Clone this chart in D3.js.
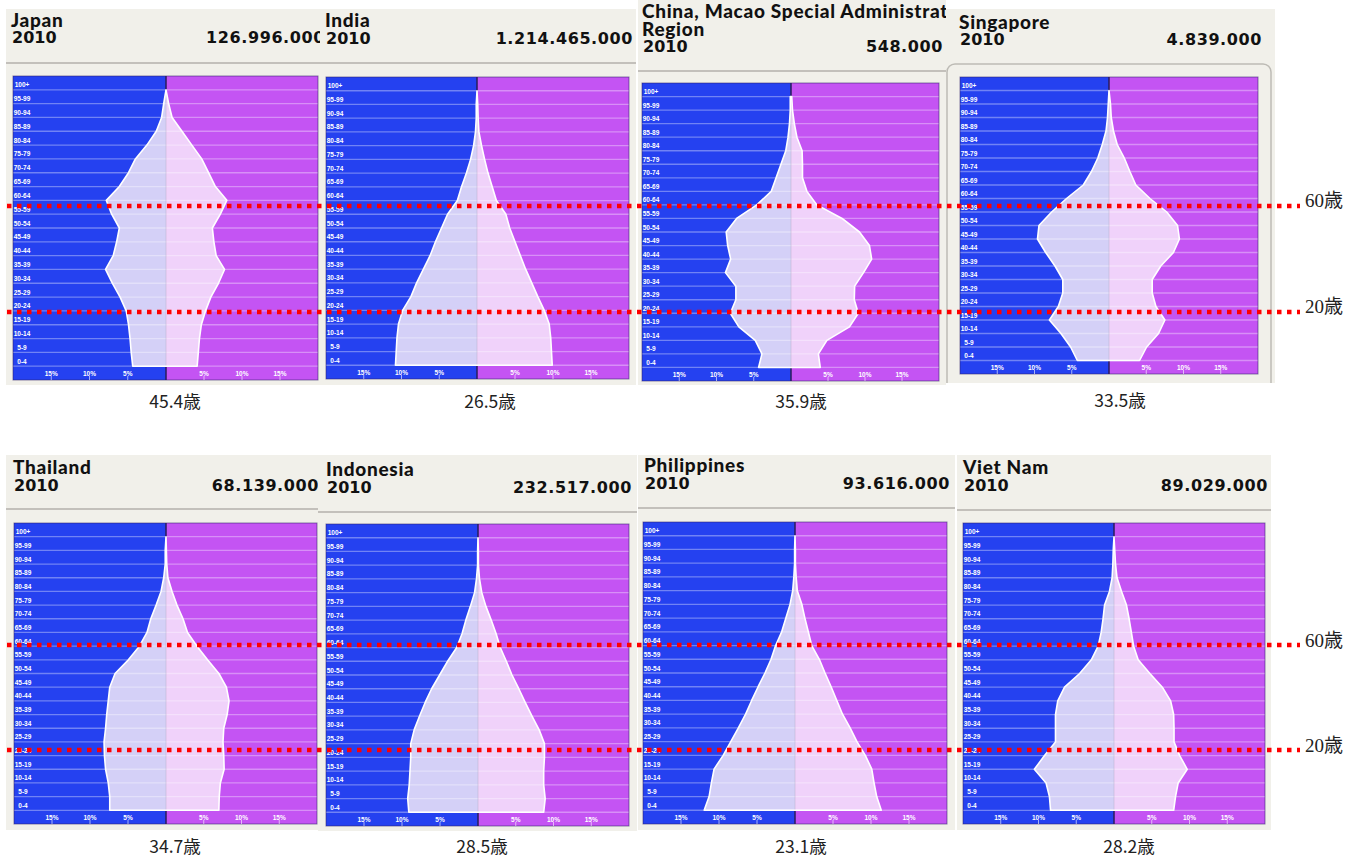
<!DOCTYPE html>
<meta charset="utf-8">
<style>
    body { margin: 0; background: #ffffff; }
    text { font-family: "Liberation Sans", Arial, sans-serif; }
    .name { font-family: Lato, "Open Sans", sans-serif; font-weight: 900; fill: #111; font-size: 19px; letter-spacing: 0.7px; }
    .year, .pop { font-family: "DejaVu Sans", sans-serif; font-weight: bold; fill: #111; font-size: 16px; }
    .pop { letter-spacing: 0.6px; }
    .age, .tick { font-size: 6.5px; font-weight: bold; fill: #fff; }
    .median { font-family: "Noto Sans CJK JP", sans-serif; font-size: 17.5px; fill: #222; }
    .ref { font-family: "Liberation Serif", "Noto Sans CJK JP", serif; font-size: 19px; fill: #222; }
</style>
<body>
<script src="https://cdnjs.cloudflare.com/ajax/libs/d3/7.8.5/d3.min.js"></script>
<script>

    // ---- data ----
    const countries = ["Japan", "India", "China, Macao Special Administrative\nRegion", "Singapore",
        "Thailand", "Indonesia", "Philippines", "Viet Nam"];
    const years = ["2010", "2010", "2010", "2010", "2010", "2010", "2010", "2010"];
    const populations = ["126.996.000", "1.214.465.000", "548.000", "4.839.000",
        "68.139.000", "232.517.000", "93.616.000", "89.029.000"];
    const medianAges = ["45.4歳", "26.5歳", "35.9歳", "33.5歳", "34.7歳", "28.5歳", "23.1歳", "28.2歳"];
    const ageGroups = ["100+", "95-99", "90-94", "85-89", "80-84", "75-79", "70-74", "65-69", "60-64", "55-59",
        "50-54", "45-49", "40-44", "35-39", "30-34", "25-29", "20-24", "15-19", "10-14", "5-9", "0-4"];
    const tickValues = [5, 10, 15];
    const refLabels = ["60歳", "20歳"];

    // % of each sex, from 100+ down to 0-4
    const japanMale = [0, 0.3, 0.57, 1.27, 2.5, 4.0, 4.9, 6.1, 7.8, 7.1, 6.1, 6.45, 6.9, 7.9, 7.0, 6.0, 5.2, 4.9, 4.7, 4.55, 4.35];
    const japanFemale = [0, 0.35, 0.8, 2.1, 3.4, 4.7, 5.6, 6.5, 8.0, 7.15, 6.1, 6.3, 6.6, 7.7, 6.9, 5.9, 5.2, 4.65, 4.4, 4.25, 4.1];
    const indiaMale = [0, 0.1, 0.1, 0.2, 0.45, 0.85, 1.4, 2.05, 2.6, 3.9, 4.7, 5.5, 6.2, 7.1, 8.0, 8.75, 9.85, 10.4, 10.6, 10.7, 10.8];
    const indiaFemale = [0, 0.1, 0.15, 0.25, 0.6, 1.0, 1.45, 2.0, 2.55, 3.8, 4.3, 5.0, 5.7, 6.4, 7.2, 8.0, 8.85, 9.5, 9.7, 9.8, 9.9];
    const macaoMale = [0.1, 0.1, 0.2, 0.4, 0.7, 1.35, 2.0, 2.65, 4.6, 7.3, 8.7, 8.5, 8.1, 8.8, 7.4, 7.4, 8.15, 7.0, 4.8, 3.9, 4.35];
    const macaoFemale = [0.1, 0.2, 0.45, 0.8, 1.5, 1.55, 1.55, 2.15, 3.5, 6.9, 9.25, 10.6, 10.9, 9.8, 8.6, 8.55, 9.1, 7.9, 4.85, 3.7, 3.95];
    const singaporeMale = [0, 0.1, 0.2, 0.4, 0.9, 1.5, 2.35, 3.45, 5.7, 7.7, 9.4, 9.6, 8.5, 7.25, 6.2, 6.2, 6.8, 8.0, 6.45, 5.15, 4.25];
    const singaporeFemale = [0, 0.2, 0.3, 0.6, 1.1, 2.05, 2.8, 3.6, 5.5, 7.75, 9.2, 9.45, 8.65, 6.95, 5.8, 5.8, 6.3, 7.5, 6.65, 5.05, 4.1];
    const thailandMale = [0, 0.1, 0.1, 0.3, 0.65, 1.3, 2.0, 2.5, 3.5, 4.95, 6.7, 7.4, 7.6, 7.8, 7.95, 8.15, 8.1, 7.95, 7.6, 7.4, 7.4];
    const thailandFemale = [0, 0.05, 0.1, 0.25, 0.8, 1.45, 2.25, 2.85, 4.1, 5.5, 7.0, 8.0, 8.35, 8.1, 7.65, 7.55, 7.65, 7.7, 7.2, 7.05, 7.0];
    const indonesiaMale = [0, 0.05, 0.05, 0.2, 0.45, 1.0, 1.6, 2.1, 2.8, 4.0, 5.05, 6.1, 6.95, 7.7, 8.4, 8.85, 8.85, 8.95, 9.05, 9.25, 9.1];
    const indonesiaFemale = [0, 0.05, 0.05, 0.2, 0.5, 1.05, 1.75, 2.4, 2.95, 3.75, 4.5, 5.4, 6.25, 7.15, 8.1, 8.8, 8.8, 8.7, 8.7, 8.9, 8.7];
    const philippinesMale = [0, 0.05, 0.05, 0.15, 0.3, 0.65, 1.2, 1.75, 2.55, 3.15, 3.95, 4.85, 5.7, 6.5, 7.45, 8.45, 9.45, 10.65, 11.0, 11.3, 11.95];
    const philippinesFemale = [0, 0.05, 0.05, 0.15, 0.3, 0.9, 1.3, 1.75, 2.2, 3.2, 3.95, 4.75, 5.5, 6.25, 7.25, 8.15, 9.25, 10.1, 10.4, 10.75, 11.35];
    const vietnamMale = [0, 0.1, 0.15, 0.25, 0.6, 1.25, 1.45, 1.7, 2.1, 3.0, 4.55, 6.55, 7.45, 7.75, 7.75, 7.75, 9.2, 10.55, 9.0, 8.55, 8.4];
    const vietnamFemale = [0, 0.1, 0.2, 0.4, 1.0, 1.65, 2.0, 2.3, 2.6, 3.2, 4.75, 6.4, 7.5, 7.9, 7.95, 7.95, 8.7, 9.7, 8.5, 8.15, 7.9];

    const males = [japanMale, indiaMale, macaoMale, singaporeMale, thailandMale, indonesiaMale, philippinesMale, vietnamMale];
    const females = [japanFemale, indiaFemale, macaoFemale, singaporeFemale, thailandFemale, indonesiaFemale, philippinesFemale, vietnamFemale];

    // ---- layout of the pasted screenshots ----
    const layout = [
        {bg: [6, 9, 320, 385], nameX: 11, nameY: 27, yearY: 43, popX: 325, sepY: 63, plot: [13, 76, 318, 380], cx: 166, med: [175, 408]},
        {bg: [320, 9, 636, 385], nameX: 325, nameY: 27, yearY: 44, popX: 633, sepY: 63, plot: [326, 77, 629, 379], cx: 477, med: [490, 408]},
        {bg: [638, 0, 946, 385], nameX: 642, nameY: 17.5, yearY: 52, popX: 943, sepY: 71, plot: [642, 83, 939, 381], cx: 791, med: [801, 408]},
        {bg: [946, 9, 1275, 383], nameX: 959, nameY: 29, yearY: 45, popX: 1262, box: [947, 64, 1271, 410], plot: [960, 77, 1258, 374], cx: 1109, med: [1120, 407]},
        {bg: [6, 455, 320, 830], nameX: 13, nameY: 474, yearY: 491, popX: 319, sepY: 509, plot: [14, 523, 317, 824], cx: 166, med: [175, 853]},
        {bg: [318, 455, 637, 831], nameX: 326, nameY: 476, yearY: 493, popX: 632, sepY: 512, plot: [326, 524, 629, 826], cx: 478, med: [482, 853]},
        {bg: [638, 455, 955, 830], nameX: 644, nameY: 472, yearY: 489, popX: 950, sepY: 508, plot: [643, 522, 947, 824], cx: 795, med: [801, 853]},
        {bg: [957, 455, 1271, 830], nameX: 963, nameY: 474, yearY: 491, popX: 1268, sepY: 510, plot: [963, 523, 1265, 824], cx: 1114, med: [1129, 853]}
    ];
    const refRows = [{lines: [206, 312], labels: [207, 313]}, {lines: [645, 750], labels: [647, 752]}];

    const width = 1359, height = 868;
    const blue = "#2541f0", purple = "#c454f3";

    let svg = d3.select("body").append("svg")
        .attr("width", width)
        .attr("height", height);

    let defs = svg.append("defs");
    let line = d3.line().x(d => d[0]).y(d => d[1]);
    let n = ageGroups.length;

    layout.forEach(function (L, k) {
        let [bx0, by0, bx1, by1] = L.bg;
        let [px0, py0, px1, py1] = L.plot;
        let cx = L.cx;

        defs.append("clipPath").attr("id", "clip" + k)
            .append("rect").attr("x", bx0).attr("y", by0).attr("width", bx1 - bx0).attr("height", by1 - by0);

        let g = svg.append("g").attr("clip-path", "url(#clip" + k + ")");

        g.append("rect")
            .attr("x", bx0).attr("y", by0)
            .attr("width", bx1 - bx0).attr("height", by1 - by0)
            .attr("fill", "#f1f0ea");

        // header
        countries[k].split("\n").forEach(function (t, j) {
            g.append("text").attr("class", "name")
                .attr("x", L.nameX).attr("y", L.nameY + j * 18.5)
                .text(t);
        });
        g.append("text").attr("class", "year")
            .attr("x", L.nameX + 1).attr("y", L.yearY)
            .text(years[k]);
        g.append("text").attr("class", "pop")
            .attr("x", L.popX).attr("y", L.yearY)
            .attr("text-anchor", "end")
            .text(populations[k]);

        if (L.box) {
            g.append("rect")
                .attr("x", L.box[0]).attr("y", L.box[1])
                .attr("width", L.box[2] - L.box[0]).attr("height", L.box[3] - L.box[1])
                .attr("rx", 8)
                .attr("fill", "none")
                .attr("stroke", "#bdbbb5")
                .attr("stroke-width", 1.5);
        } else {
            g.append("line")
                .attr("x1", bx0).attr("x2", bx1)
                .attr("y1", L.sepY).attr("y2", L.sepY)
                .attr("stroke", "#b3b1ab").attr("stroke-width", 1.5);
        }

        // scales
        let xL = d3.scaleLinear().domain([0, 20]).range([cx, px0]);
        let xR = d3.scaleLinear().domain([0, 20]).range([cx, px1]);
        let y = d3.scaleLinear().domain([0, n + 1]).range([py0, py1]);

        g.append("rect").attr("x", px0).attr("y", py0).attr("width", cx - px0).attr("height", py1 - py0).attr("fill", blue);
        g.append("rect").attr("x", cx).attr("y", py0).attr("width", px1 - cx).attr("height", py1 - py0).attr("fill", purple);

        let malePts = males[k].map((v, i) => [xL(v), y(i + 1)]);
        let femalePts = females[k].map((v, i) => [xR(v), y(i + 1)]);

        g.append("path").attr("d", line([[cx, y(1)]].concat(malePts, [[cx, y(n)]])) + "Z").attr("fill", "#d4d0f7");
        g.append("path").attr("d", line([[cx, y(1)]].concat(femalePts, [[cx, y(n)]])) + "Z").attr("fill", "#f0d2fa");

        // row separators
        g.selectAll(null).data(d3.range(1, n + 1)).enter().append("line")
            .attr("x1", px0).attr("x2", px1)
            .attr("y1", d => y(d)).attr("y2", d => y(d))
            .attr("stroke", "#ffffff").attr("stroke-opacity", 0.35).attr("stroke-width", 1.3);

        // center line
        g.append("line").attr("x1", cx).attr("x2", cx).attr("y1", py0).attr("y2", y(1))
            .attr("stroke", "#2a1d5c").attr("stroke-width", 1.5);
        g.append("line").attr("x1", cx).attr("x2", cx).attr("y1", y(n)).attr("y2", py1)
            .attr("stroke", "#2a1d5c").attr("stroke-width", 1.5);
        g.append("line").attr("x1", cx).attr("x2", cx).attr("y1", y(1)).attr("y2", y(n))
            .attr("stroke", "#b9b0cc").attr("stroke-opacity", 0.5).attr("stroke-width", 1);

        // pyramid outline
        let outline = [[cx, y(n)]]
            .concat(malePts.slice().reverse(), [[cx, y(1)]], femalePts, [[cx, y(n)]]);
        g.append("path").attr("d", line(outline))
            .attr("fill", "none").attr("stroke", "#ffffff").attr("stroke-width", 1.6)
            .attr("stroke-linejoin", "round");

        // border
        g.append("rect").attr("x", px0).attr("y", py0).attr("width", px1 - px0).attr("height", py1 - py0)
            .attr("fill", "none").attr("stroke", "#2b1f66").attr("stroke-opacity", 0.55).attr("stroke-width", 1);

        // age labels
        g.selectAll(null).data(ageGroups).enter().append("text")
            .attr("class", "age")
            .attr("x", px0 + 9)
            .attr("y", (d, i) => y(i + 1) - 2.5)
            .attr("text-anchor", "middle")
            .text(d => d);

        // x axis ticks, both sides
        [xL, xR].forEach(function (sc) {
            g.selectAll(null).data(tickValues).enter().append("text")
                .attr("class", "tick")
                .attr("x", d => sc(d))
                .attr("y", py1 - 4.5)
                .attr("text-anchor", "middle")
                .text(d => d + "%");
            g.selectAll(null).data(tickValues).enter().append("line")
                .attr("x1", d => sc(d)).attr("x2", d => sc(d))
                .attr("y1", py1 - 4).attr("y2", py1)
                .attr("stroke", "#ffffff").attr("stroke-opacity", 0.6).attr("stroke-width", 1);
        });

        svg.append("text").attr("class", "median")
            .attr("x", L.med[0]).attr("y", L.med[1])
            .attr("text-anchor", "middle")
            .text(medianAges[k]);
    });

    // red dotted reference lines
    refRows.forEach(function (r) {
        r.lines.forEach(function (yy, j) {
            svg.append("line")
                .attr("x1", 7).attr("x2", 1300)
                .attr("y1", yy).attr("y2", yy)
                .attr("stroke", "#ff0000")
                .attr("stroke-width", 4.5)
                .attr("stroke-dasharray", "4.5,5.5");
            svg.append("text").attr("class", "ref")
                .attr("x", 1305).attr("y", r.labels[j])
                .text(refLabels[j]);
        });
    });

</script>
